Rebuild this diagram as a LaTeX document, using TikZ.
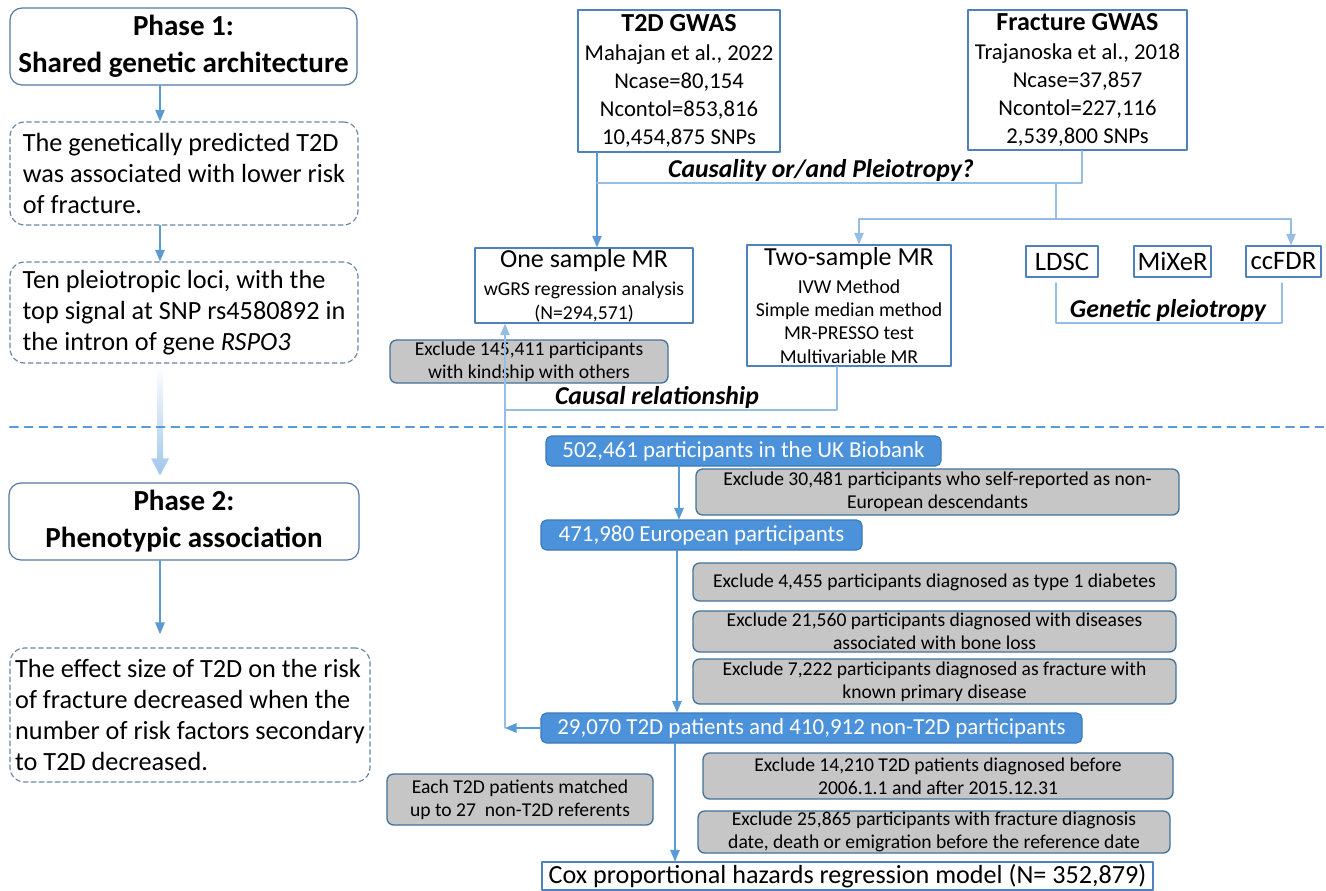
\documentclass[tikz,border=0pt]{standalone}
\usepackage{fontspec}
\setmainfont{Carlito}
\usepackage{tikz}
\usetikzlibrary{arrows}
\usetikzlibrary{calc}
\definecolor{lineblue}{RGB}{91,155,213}
\definecolor{lightblue}{RGB}{150,190,228}
\definecolor{arrlight}{RGB}{160,198,232}
\definecolor{boxline}{RGB}{79,129,189}
\definecolor{phaseline}{RGB}{84,120,165}
\definecolor{dashline}{RGB}{105,135,165}
\definecolor{greyfill}{RGB}{198,198,198}
\definecolor{greyline}{RGB}{65,113,156}
\definecolor{bluefill}{RGB}{76,146,218}
\definecolor{blueline}{RGB}{60,120,185}
\newcommand{\phasefont}{\fontsize{21.8}{27.8}\selectfont\bfseries}
\newcommand{\resfont}{\fontsize{19.7}{23.3}\selectfont}
\newcommand{\gwasfont}{\fontsize{17}{21}\selectfont}
\newcommand{\gwastitle}{\fontsize{19.5}{21}\selectfont\bfseries}
\newcommand{\mrfont}{\fontsize{19.5}{21}\selectfont}
\newcommand{\methfont}{\fontsize{14.8}{17.5}\selectfont}
\newcommand{\toolfont}{\fontsize{20}{24}\selectfont}
\newcommand{\exfont}{\fontsize{14.7}{17.3}\selectfont}
\newcommand{\ukfont}{\fontsize{17.2}{20}\selectfont}
\newcommand{\coxfont}{\fontsize{19.6}{22}\selectfont}
\newcommand{\tagfont}{\fontsize{19.3}{22}\selectfont\bfseries\itshape}

\begin{document}
\begin{tikzpicture}[line cap=round,line join=round,>=triangle 45,x=0.75pt,y=-0.75pt,
    phasebox/.style={draw=phaseline,line width=0.9pt,rounded corners=9pt,inner sep=0pt,align=center,font=\phasefont,minimum height=57.75pt},
    resbox/.style={draw=dashline,line width=0.9pt,dash pattern=on 3.5pt off 2.5pt,rounded corners=11pt,inner sep=0pt,align=left,font=\resfont},
    gwasbox/.style={draw=boxline,line width=1pt,inner sep=0pt,align=center,font=\gwasfont},
    mrbox/.style={draw=boxline,line width=1pt,inner sep=0pt,align=center,font=\methfont},
    toolbox/.style={draw=boxline,line width=1pt,inner sep=0pt,font=\toolfont,minimum height=23.25pt},
    exbox/.style={draw=greyline,fill=greyfill,line width=1pt,rounded corners=5pt,inner sep=0pt,align=center,font=\exfont},
    ukbox/.style={draw=blueline,fill=bluefill,text=white,line width=0.8pt,rounded corners=4pt,inner sep=0pt,font=\ukfont,minimum height=22.5pt},
    coxbox/.style={draw=boxline,line width=0.8pt,inner sep=0pt,font=\coxfont},
    tag/.style={inner sep=0pt,font=\tagfont},
    flow/.style={draw=lineblue,line width=1pt},
    light/.style={draw=lightblue,line width=1pt}]
  \useasboundingbox (0,0) rectangle (1326,891);

  \node[phasebox,minimum width=260.25pt] (phase1) at (183.5,46.5) {Phase 1:\\Shared genetic architecture};
  \node[resbox,minimum width=261pt,minimum height=77.25pt] (res1) at (184,173.5) {The genetically predicted T2D\\was associated with lower risk\\of fracture.};
  \node[resbox,minimum width=261pt,minimum height=75.75pt] (res2) at (184,312.5) {Ten pleiotropic loci, with the\\top signal at SNP rs4580892 in\\the intron of gene \textit{RSPO3}};
  \node[phasebox,minimum width=262.5pt] (phase2) at (184,521.5) {Phase 2:\\Phenotypic association};
  \node[resbox,minimum width=270pt,minimum height=100.5pt] (res3) at (190,715) {The effect size of T2D on the risk\\of fracture decreased when the\\number of risk factors secondary\\to T2D decreased.};

  \node[gwasbox,minimum width=151.5pt,minimum height=106.5pt] (t2d) at (679,81) {{\gwastitle T2D GWAS}\\[1pt]Mahajan et al., 2022\\Ncase=80,154\\Ncontol=853,816\\10,454,875 SNPs};
  \node[gwasbox,minimum width=164.25pt,minimum height=105pt] (frac) at (1077.5,80) {{\gwastitle Fracture GWAS}\\[1pt]Trajanoska et al., 2018\\Ncase=37,857\\Ncontol=227,116\\2,539,800 SNPs};
  \node[tag] (causq) at (821,170) {Causality or/and Pleiotropy?};

  \node[mrbox,minimum width=163.5pt,minimum height=56.25pt] (onemr) at (584,285.5) {{\mrfont One sample MR}\\[4pt]wGRS regression analysis\\(N=294,571)};
  \node[mrbox,minimum width=153pt,minimum height=90.75pt] (twomr) at (849,305.5) {{\mrfont Two-sample MR}\\[3pt]IVW Method\\Simple median method\\MR-PRESSO test\\Multivariable MR};
  \node[toolbox,minimum width=54pt] (ldsc) at (1062,261.5) {LDSC};
  \node[toolbox,minimum width=57.75pt] (mixer) at (1172.5,261.5) {MiXeR};
  \node[toolbox,minimum width=56.25pt] (ccfdr) at (1283.5,261.5) {ccFDR};
  \node[tag] (genp) at (1168,310) {Genetic pleiotropy};
  \node[exbox,minimum width=208.5pt,minimum height=32.25pt] (exkin) at (529,361.5) {Exclude 145,411 participants\\with kindship with others};
  \node[tag] (causr) at (657,397) {Causal relationship};

  \node[ukbox,minimum width=296.25pt] (ukb) at (743.5,451) {502,461 participants in the UK Biobank};
  \node[exbox,minimum width=362.25pt,minimum height=34.5pt] (ex1) at (937.5,492) {Exclude 30,481 participants who self-reported as non-\\European descendants};
  \node[ukbox,minimum width=240.75pt] (euro) at (701.5,535) {471,980 European participants};
  \node[exbox,minimum width=362.25pt,minimum height=28.5pt] (ex2) at (934.5,582) {Exclude 4,455 participants diagnosed as type 1 diabetes};
  \node[exbox,minimum width=362.25pt,minimum height=30.75pt] (ex3) at (934.5,631.5) {Exclude 21,560 participants diagnosed with diseases\\associated with bone loss};
  \node[exbox,minimum width=362.25pt,minimum height=33.75pt] (ex4) at (934.5,681.5) {Exclude 7,222 participants diagnosed as fracture with\\known primary disease};
  \node[ukbox,minimum width=405.75pt] (t2dp) at (811.5,728) {29,070 T2D patients and 410,912 non-T2D participants};
  \node[exbox,minimum width=352.5pt,minimum height=34.5pt] (ex5) at (938,776) {Exclude 14,210 T2D patients diagnosed before\\2006.1.1 and after 2015.12.31};
  \node[exbox,minimum width=354pt,minimum height=31.5pt] (ex6) at (934,832) {Exclude 25,865 participants with fracture diagnosis\\date, death or emigration before the reference date};
  \node[exbox,minimum width=199.5pt,minimum height=38.25pt] (match) at (520,799.5) {Each T2D patients matched\\up to 27\ \ non-T2D referents};
  \node[coxbox,minimum width=458.25pt,minimum height=21pt] (cox) at (847.5,876) {Cox proportional hazards regression model (N= 352,879)};

  \coordinate (lc) at (160,0);
  \coordinate (tc) at (597,183);
  \coordinate (fc) at (1082,0);
  \coordinate (bc) at (1056,183);
  \coordinate (bd) at (1056,219);
  \coordinate (ta) at (859,0);
  \coordinate (tb) at (1291,0);
  \coordinate (ga) at (1056,283);
  \coordinate (gb) at (1282,283);
  \coordinate (cr) at (837,0);
  \coordinate (back) at (505,410);
  \coordinate (uc) at (679,0);
  \coordinate (ec) at (677,0);
  \coordinate (pc) at (675,0);

  \draw[flow,->] (phase1.south -| lc) -- (res1.north -| lc);
  \draw[flow,->] (res1.south -| lc) -- (res2.north -| lc);
  \draw[flow,->,shorten >=10pt] (phase2.south -| lc) -- (res3.north -| lc);
  \shade[top color=white,bottom color=arrlight]
    ($(res2.south -| lc)+(-3,2)$) -- ($(res2.south -| lc)+(3,2)$) -- ($(phase2.north -| lc)+(3,-24)$)
    -- ($(phase2.north -| lc)+(9,-24)$) -- ($(phase2.north -| lc)+(0,-7)$) -- ($(phase2.north -| lc)+(-9,-24)$)
    -- ($(phase2.north -| lc)+(-3,-24)$) -- cycle;
  \draw[lineblue,line width=1.6pt,dash pattern=on 6pt off 5pt] (10,427) -- (1326,427);

  \draw[flow,->] (t2d.south -| tc) -- (onemr.north -| tc);
  \draw[light] (frac.south -| fc) |- (tc);
  \draw[light] (bc) -- (bd);
  \draw[light,->] (bd) -| (twomr.north -| ta);
  \draw[light,->] (bd) -| (ccfdr.north -| tb);
  \draw[light] (ga) -- ++(0,40) -| (gb);
  \draw[light] (twomr.south -| cr) |- (back);
  \draw[flow,->] (t2dp.west) -- (t2dp.west -| back);
  \draw[light,->] (t2dp.west -| back) -- (onemr.south -| back);

  \draw[flow,->] (ukb.south -| uc) -- (euro.north -| uc);
  \draw[flow,->] (euro.south -| ec) -- (t2dp.north -| ec);
  \draw[flow,->] (t2dp.south -| pc) -- (cox.north -| pc);
\end{tikzpicture}
\end{document}
